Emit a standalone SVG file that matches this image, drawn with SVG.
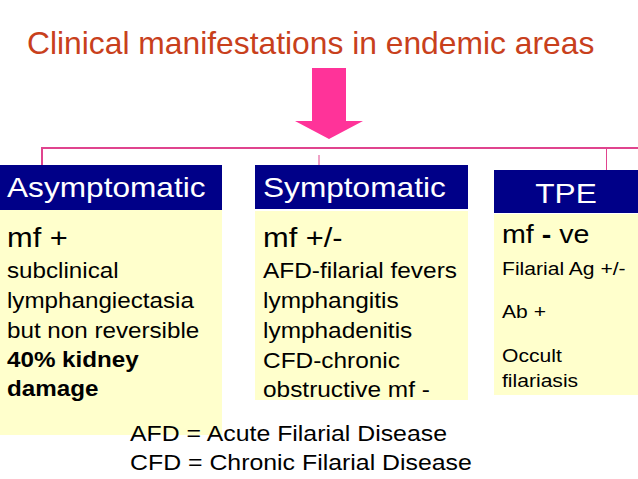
<svg xmlns="http://www.w3.org/2000/svg" width="638" height="479" viewBox="0 0 638 479">
  <style>
    text { font-family: "Liberation Sans", Arial, sans-serif; }
    .title { font-size: 31.8px; fill: #c8401c; }
    .hdr { fill: #000088; }
    .body { fill: #ffffcc; }
    .htxt { font-size: 28px; fill: #ffffff; }
    .big { font-size: 28px; fill: #000000; }
    .txt { font-size: 22px; fill: #000000; }
    .small { font-size: 18.5px; fill: #000000; }
    .b { font-weight: bold; }
    .conn { stroke: #e0448e; fill: none; }
  </style>
  <rect width="638" height="479" fill="#ffffff"/>

  <g id="title">
    <text class="title" x="27" y="54">Clinical manifestations in endemic areas</text>
  </g>

  <g id="arrow">
    <polygon points="312,68 346,68 346,121 363,121 329,139 295,121 312,121" fill="#ff3399"/>
  </g>

  <g id="connectors">
    <line class="conn" x1="41" y1="148" x2="638" y2="148" stroke-width="2"/>
    <line class="conn" x1="42" y1="148" x2="42" y2="166" stroke-width="2"/>
    <line class="conn" x1="319" y1="155" x2="319" y2="172" stroke-width="1"/>
    <line class="conn" x1="606.5" y1="148" x2="606.5" y2="171" stroke-width="1"/>
  </g>

  <g id="asymptomatic">
    <rect class="body" x="0" y="210" width="222" height="225"/>
    <rect class="hdr" x="0" y="165" width="222" height="45"/>
    <text class="htxt" transform="translate(7,197) scale(1.13,1)">Asymptomatic</text>
    <text class="big" transform="translate(7,247) scale(1.1,1)">mf +</text>
    <text class="txt" transform="translate(7,278) scale(1.1,1)">subclinical</text>
    <text class="txt" transform="translate(7,308) scale(1.1,1)">lymphangiectasia</text>
    <text class="txt" transform="translate(7,338) scale(1.1,1)">but non reversible</text>
    <text class="txt b" transform="translate(7,367) scale(1.1,1)">40% kidney</text>
    <text class="txt b" transform="translate(7,396) scale(1.1,1)">damage</text>
  </g>

  <g id="symptomatic">
    <rect class="body" x="255" y="211" width="213" height="189"/>
    <rect class="hdr" x="255" y="165" width="213" height="44"/>
    <text class="htxt" transform="translate(263,197) scale(1.13,1)">Symptomatic</text>
    <text class="big" transform="translate(263,247) scale(1.1,1)">mf +/-</text>
    <text class="txt" transform="translate(263,278) scale(1.11,1)">AFD-filarial fevers</text>
    <text class="txt" transform="translate(263,308) scale(1.11,1)">lymphangitis</text>
    <text class="txt" transform="translate(263,338) scale(1.11,1)">lymphadenitis</text>
    <text class="txt" transform="translate(263,368) scale(1.11,1)">CFD-chronic</text>
    <text class="txt" transform="translate(263,397) scale(1.11,1)">obstructive mf -</text>
  </g>

  <g id="tpe">
    <rect class="body" x="494" y="214" width="144" height="181"/>
    <rect class="hdr" x="494" y="170" width="144" height="43"/>
    <text class="htxt" text-anchor="middle" transform="translate(566,203) scale(1.13,1)">TPE</text>
    <text transform="translate(502,243) scale(1.1,1)" style="font-size:26px"><tspan>mf </tspan><tspan class="b">-</tspan><tspan> ve</tspan></text>
    <text class="small" transform="translate(502,275) scale(1.14,1)">Filarial Ag +/-</text>
    <text class="small" transform="translate(502,318) scale(1.14,1)">Ab +</text>
    <text class="small" transform="translate(502,362) scale(1.14,1)">Occult</text>
    <text class="small" transform="translate(502,387) scale(1.14,1)">filariasis</text>
  </g>

  <g id="legend">
    <text class="txt" transform="translate(130,441) scale(1.13,1)">AFD = Acute Filarial Disease</text>
    <text class="txt" transform="translate(130,470) scale(1.13,1)">CFD = Chronic Filarial Disease</text>
  </g>
</svg>
